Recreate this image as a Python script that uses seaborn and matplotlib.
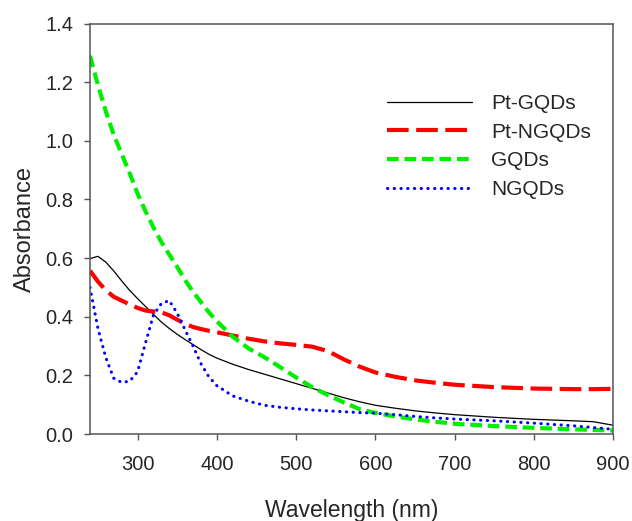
import numpy as np
import pandas as pd
import matplotlib
matplotlib.use("Agg")
import matplotlib.pyplot as plt
import seaborn as sns

# ---- Data ----
wavelength = [240, 250, 260, 270, 280, 290, 300, 310, 320, 330, 340, 350, 360, 370,
              380, 390, 400, 420, 440, 460, 480, 500, 520, 540, 560, 580, 600, 625,
              650, 675, 700, 750, 800, 850, 875, 900]

pt_gqds = [0.598, 0.606, 0.586, 0.556, 0.522, 0.490, 0.462, 0.435, 0.408, 0.382, 0.360,
           0.340, 0.322, 0.305, 0.288, 0.272, 0.259, 0.238, 0.220, 0.204, 0.188, 0.172,
           0.156, 0.140, 0.124, 0.110, 0.098, 0.088, 0.079, 0.072, 0.066, 0.057, 0.050,
           0.045, 0.042, 0.030]

pt_ngqds = [0.557, 0.520, 0.490, 0.468, 0.455, 0.442, 0.430, 0.421, 0.418, 0.415, 0.405,
            0.390, 0.376, 0.365, 0.358, 0.352, 0.347, 0.336, 0.325, 0.316, 0.309, 0.304,
            0.298, 0.283, 0.255, 0.230, 0.210, 0.195, 0.183, 0.175, 0.168, 0.160, 0.155,
            0.153, 0.153, 0.154]

gqds = [1.290, 1.190, 1.100, 1.020, 0.955, 0.890, 0.820, 0.760, 0.705, 0.655, 0.612,
        0.570, 0.525, 0.485, 0.450, 0.415, 0.385, 0.332, 0.292, 0.262, 0.228, 0.193,
        0.160, 0.133, 0.108, 0.085, 0.072, 0.060, 0.050, 0.042, 0.035, 0.027, 0.021,
        0.016, 0.014, 0.012]

ngqds = [0.500, 0.360, 0.260, 0.190, 0.176, 0.180, 0.212, 0.310, 0.405, 0.445, 0.455,
         0.412, 0.355, 0.300, 0.240, 0.195, 0.165, 0.130, 0.112, 0.098, 0.091, 0.086,
         0.082, 0.079, 0.076, 0.073, 0.071, 0.066, 0.060, 0.055, 0.051, 0.045, 0.037,
         0.028, 0.022, 0.016]

series_names = ["Pt-GQDs", "Pt-NGQDs", "GQDs", "NGQDs"]
x_ticks = [300, 400, 500, 600, 700, 800, 900]
y_ticks = [0.0, 0.2, 0.4, 0.6, 0.8, 1.0, 1.2, 1.4]

# ---- Style ----
sns.set_style("white")
plt.rcParams["font.family"] = ["Liberation Sans", "DejaVu Sans"]

fig = plt.figure(figsize=(6.32, 5.21), dpi=100)
ax = fig.add_axes([90 / 632, 1 - 434 / 521, 523 / 632, 410.5 / 521])

styles = [
    dict(color="black", lw=0.9, linestyle="-"),
    dict(color="#ff0000", lw=3.0, linestyle=(0, (5.2, 1.8))),
    dict(color="#00ee00", lw=3.0, linestyle=(0, (2.8, 1.4))),
    dict(color="#0000ff", lw=2.2, linestyle=(0, (0.1, 2.1)), dash_capstyle="round"),
]

for name, vals, st in zip(series_names, [pt_gqds, pt_ngqds, gqds, ngqds], styles):
    sns.lineplot(x=wavelength, y=vals, ax=ax, label=name, **st)

# ---- Axes formatting ----
ax.set_xlim(240, 900)
ax.set_ylim(0, 1.4)
ax.set_xticks(x_ticks)
ax.set_yticks(y_ticks)
ax.set_yticklabels([f"{v:.1f}" for v in y_ticks])
ax.tick_params(axis="both", direction="out", length=4, width=1.0, color="#555555",
               labelsize=14.5, bottom=True, left=True)
ax.tick_params(axis="x", pad=11)
ax.tick_params(axis="y", pad=8)
for sp in ax.spines.values():
    sp.set_color("#555555")
    sp.set_linewidth(1.1)

ax.set_xlabel("Wavelength (nm)", fontsize=16.5, labelpad=18)
ax.set_ylabel("Absorbance", fontsize=17, labelpad=7)

ax.legend(loc="upper left", bbox_to_anchor=(0.568, 0.828), frameon=False, fontsize=15,
          handlelength=4.1, handletextpad=0.9, labelspacing=0.46, borderpad=0,
          borderaxespad=0)

fig.savefig("out.png", dpi=100)
